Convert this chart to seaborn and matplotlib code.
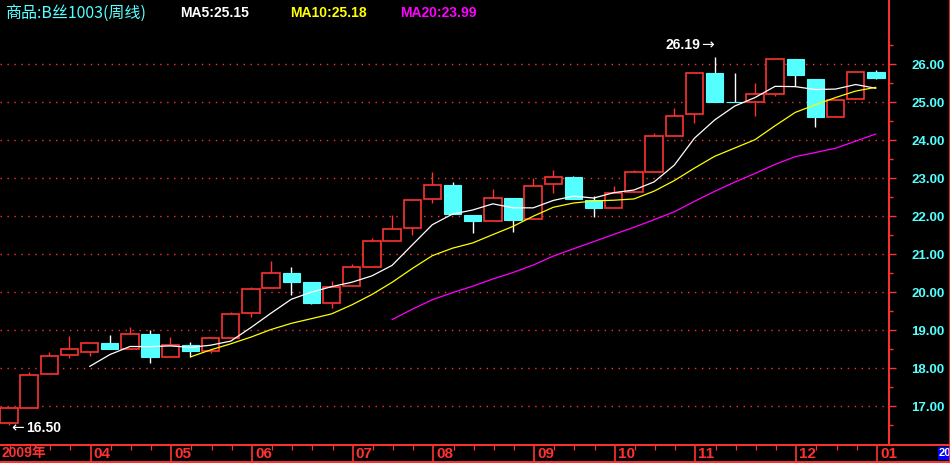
import numpy as np
import pandas as pd
import seaborn as sns
import matplotlib.pyplot as plt

# weekly OHLC (2009 -> Jan 2010)
opens = [16.55, 16.96, 17.84, 18.34, 18.42, 18.66, 18.50, 18.90, 18.31, 18.61,
         18.46, 18.81, 19.45, 20.10, 20.50, 20.26, 19.73, 20.17, 20.67, 21.36,
         21.68, 22.45, 22.82, 22.03, 21.88, 22.47, 21.92, 22.84, 23.04, 22.43,
         22.21, 22.63, 23.17, 24.12, 24.68, 25.76, 25.00, 25.00, 25.21, 26.13,
         25.61, 24.62, 25.08, 25.81]
highs = [16.97, 17.91, 18.44, 18.85, 18.66, 18.88, 19.09, 19.01, 18.83, 18.68,
         18.83, 19.47, 20.15, 20.83, 20.67, 20.26, 20.30, 20.74, 21.42, 22.03,
         22.42, 23.16, 22.89, 22.03, 22.72, 22.47, 23.00, 23.22, 23.07, 22.53,
         22.80, 23.21, 24.18, 24.84, 25.76, 26.19, 25.76, 25.52, 26.13, 26.13,
         25.61, 25.06, 25.81, 25.85]
lows = [16.50, 16.96, 17.84, 18.26, 18.33, 18.50, 18.50, 18.15, 18.31, 18.30,
        18.39, 18.81, 19.36, 20.10, 19.93, 19.69, 19.59, 20.17, 20.67, 21.36,
        21.51, 22.36, 22.05, 21.55, 21.88, 21.59, 21.92, 22.62, 22.45, 21.99,
        22.21, 22.63, 23.17, 24.12, 24.45, 25.00, 25.00, 24.64, 25.17, 25.44,
        24.36, 24.62, 25.08, 25.61]
closes = [16.95, 17.82, 18.32, 18.50, 18.66, 18.50, 18.89, 18.30, 18.60, 18.46,
          18.79, 19.43, 20.08, 20.50, 20.28, 19.73, 20.15, 20.66, 21.34, 21.66,
          22.42, 22.82, 22.05, 21.88, 22.47, 21.90, 22.81, 23.03, 22.45, 22.21,
          22.61, 23.16, 24.10, 24.65, 25.76, 25.00, 25.00, 25.21, 26.13, 25.72,
          24.62, 25.06, 25.81, 25.63]

month_start = [4, 8, 12, 17, 21, 26, 30, 34, 39, 43]
month_labels = ['04', '05', '06', '07', '08', '09', '10', '11', '12', '01']
price_ticks = [17, 18, 19, 20, 21, 22, 23, 24, 25, 26]

df = pd.DataFrame({'idx': np.arange(len(closes)), 'open': opens, 'high': highs,
                   'low': lows, 'close': closes})
df['ma5'] = df['close'].rolling(5).mean()
df['ma10'] = df['close'].rolling(10).mean()
df['ma20'] = df['close'].rolling(20).mean()

sns.set_style('dark', {'axes.facecolor': 'black', 'figure.facecolor': 'black'})
plt.rcParams['font.family'] = ['Liberation Sans', 'DejaVu Sans']

RED = '#FF3232'
CYAN = '#54FFFF'
W, H = 950, 463

fig = plt.figure(figsize=(9.5, 4.63), dpi=100)
fig.patch.set_facecolor('black')

# main price panel, pixel 0..889 wide, 0..444 tall
ax = fig.add_axes([0, 19 / H, 889 / W, 444 / H])
ax.set_facecolor('black')
x0 = -9 / 20.16
ax.set_xlim(x0, (889 - 9) / 20.16)
ax.set_ylim(26 - (444 - 64.3) / 38, 26 + 64.3 / 38)

for p in price_ticks:
    ax.axhline(p, color=RED, lw=1.0, ls=(0, (1, 4)), zorder=0)

up = df[df['close'] > df['open']]
down = df[df['close'] <= df['open']]

# wicks
ax.vlines(up['idx'], up['low'], up['open'], color=RED, lw=1.0, zorder=1)
ax.vlines(up['idx'], up['close'], up['high'], color=RED, lw=1.0, zorder=1)
ax.vlines(down['idx'], down['low'], down['high'], color='white', lw=1.0, zorder=1)

# bodies
ax.bar(up['idx'], up['close'] - up['open'], bottom=up['open'], width=0.86,
       facecolor='black', edgecolor=RED, linewidth=1.2, zorder=2)
ax.bar(down['idx'], down['open'] - down['close'], bottom=down['close'], width=0.86,
       facecolor=CYAN, edgecolor=CYAN, linewidth=0.8, zorder=2)

sns.lineplot(data=df, x='idx', y='ma5', color='white', lw=0.9, ax=ax, zorder=3)
sns.lineplot(data=df, x='idx', y='ma10', color='#FFFF00', lw=0.9, ax=ax, zorder=3)
sns.lineplot(data=df, x='idx', y='ma20', color='#FF00FF', lw=0.9, ax=ax, zorder=3)

ax.set_xlabel('')
ax.set_ylabel('')
ax.set_xticks([])
ax.grid(False)
for s in ['left', 'top', 'bottom']:
    ax.spines[s].set_visible(False)
ax.spines['right'].set_color(RED)
ax.spines['right'].set_linewidth(1.4)
ax.yaxis.tick_right()
ax.set_yticks(price_ticks)
ax.set_yticklabels([f'{p:.2f}' for p in price_ticks])
ax.set_yticks(np.arange(16.5, 27.0, 1.0), minor=True)
ax.tick_params(axis='y', which='major', colors=RED, labelcolor=CYAN, length=5,
               width=1, pad=11, labelsize=9.5, right=True, left=False)
ax.tick_params(axis='y', which='minor', colors=RED, length=3, width=1,
               right=True, left=False)
for t in ax.get_yticklabels():
    t.set_fontweight('bold')

# bottom date strip
bx = fig.add_axes([0, 0, 1, 19 / H])
bx.set_facecolor('black')
bx.set_xlim(x0, x0 + W / 20.16)
bx.set_ylim(0, 1)
bx.axis('off')
bx.axhline(0.97, color=RED, lw=1.4)
bx.axhline(0.07, color=RED, lw=1.4)
for i in range(len(closes)):
    if i in month_start:
        bx.vlines(i + 0.05, 0.07, 0.97, color=RED, lw=1.2)
    else:
        bx.vlines(i + 0.05, 0.7, 0.97, color=RED, lw=0.9)
for i, lab in zip(month_start, month_labels):
    bx.text(i + 0.2, 0.5, lab, color=RED, fontsize=11, fontweight='bold',
            va='center', ha='left')
bx.text(x0 + 1 / 20.16, 0.5, '2009年', color=RED, fontsize=10, fontweight='bold',
        va='center', ha='left', family=['Liberation Sans', 'Noto Sans CJK SC'])
bx.text(x0 + 939 / 20.16, 0.5, '20', color='white', fontsize=8, fontweight='bold',
        va='center', ha='left', bbox=dict(facecolor='#0000FF', edgecolor='none', pad=1))

# right border
fig.add_artist(plt.Line2D([949.5 / W, 949.5 / W], [0, 1], color=RED, lw=1.2))


def fx(px):
    return px / W


def fy(py):
    return 1 - py / H


fig.text(fx(5), fy(13), '商品:B丝1003(周线)', color=CYAN, fontsize=11.5,
         va='center', ha='left', family=['Noto Sans CJK SC', 'DejaVu Sans'])
fig.text(fx(180), fy(13), 'MA5:25.15', color='white', fontsize=10,
         fontweight='bold', va='center', ha='left')
fig.text(fx(290), fy(13), 'MA10:25.18', color='#FFFF00', fontsize=10,
         fontweight='bold', va='center', ha='left')
fig.text(fx(400), fy(13), 'MA20:23.99', color='#FF00FF', fontsize=10,
         fontweight='bold', va='center', ha='left')

# price extreme markers
fig.text(fx(11), fy(428), '←', color='white', fontsize=11, va='center',
         ha='left', family=['DejaVu Sans'])
fig.text(fx(26), fy(428), '16.50', color='white', fontsize=10,
         fontweight='bold', va='center', ha='left')
fig.text(fx(665), fy(45), '26.19', color='white', fontsize=10,
         fontweight='bold', va='center', ha='left')
fig.text(fx(701), fy(45), '→', color='white', fontsize=11, va='center',
         ha='left', family=['DejaVu Sans'])

plt.savefig('out.png', dpi=100, facecolor='black')
